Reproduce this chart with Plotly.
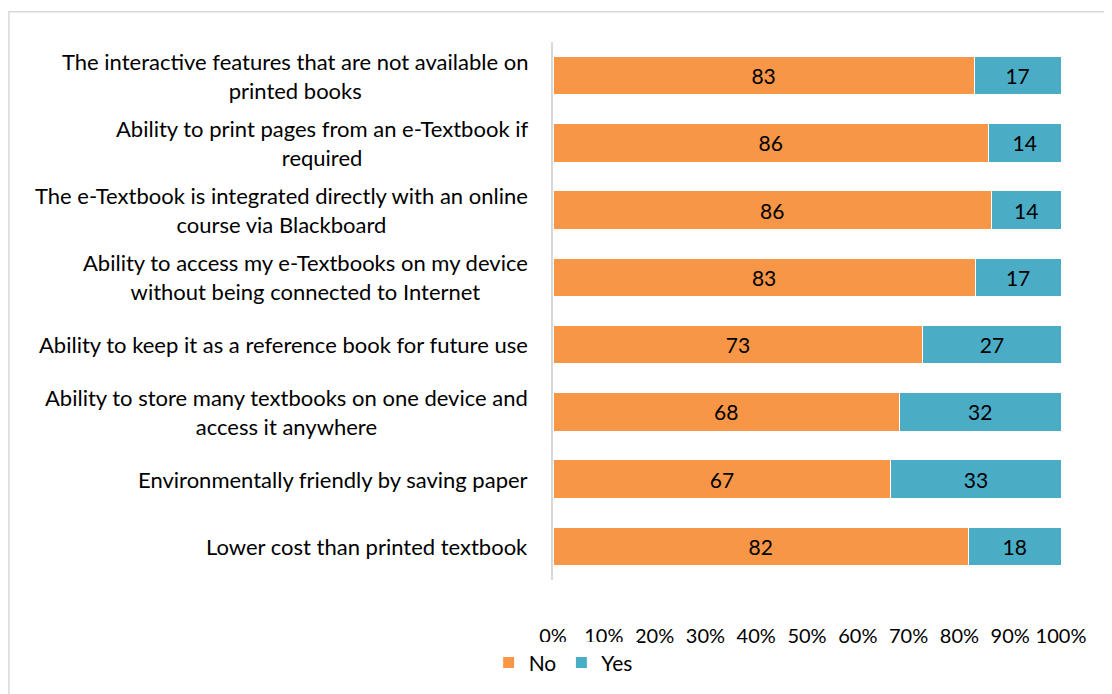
import plotly.graph_objects as go

# categories, top to bottom
features = [
    "The interactive features that are not available on<br>printed books",
    "Ability to print pages from an e-Textbook if<br>required",
    "The e-Textbook is integrated directly with an online<br>course via Blackboard",
    "Ability to access my e-Textbooks on my device<br>without being connected to Internet",
    "Ability to keep it as a reference book for future use",
    "Ability to store many textbooks on one device and<br>access it anywhere",
    "Environmentally friendly by saving paper",
    "Lower cost than printed textbook",
]
# bar lengths (percent of row)
no_share = [82.9, 85.7, 86.3, 83.1, 72.8, 68.2, 66.5, 81.8]
yes_share = [17.1, 14.3, 13.7, 16.9, 27.2, 31.8, 33.5, 18.2]
# printed data labels
no_labels = [83, 86, 86, 83, 73, 68, 67, 82]
yes_labels = [17, 14, 14, 17, 27, 32, 33, 18]
pct_ticks = [0, 10, 20, 30, 40, 50, 60, 70, 80, 90, 100]
pct_text = ['0%', '10%', '20%', '30%', '40%', '50%', '60%', '70%', '80%', '90%', '100%']

FONT = "Lato"
colors = {'No': '#F79646', 'Yes': '#4BACC6'}
cat_ids = [f"c{i}" for i in range(len(features))]

fig = go.Figure()
for name, vals, labels in [('No', no_share, no_labels), ('Yes', yes_share, yes_labels)]:
    fig.add_trace(go.Bar(
        y=cat_ids, x=vals, name=name, orientation='h',
        marker=dict(color=colors[name], line=dict(color='white', width=1)),
        text=[str(v) for v in labels], textposition='inside',
        insidetextanchor='middle', textangle=0,
        textfont=dict(family=FONT, size=21, color='black'),
        width=0.57, hoverinfo='skip',
    ))

# category labels, lines centred like the original
for cid, label in zip(cat_ids, features):
    fig.add_annotation(
        x=-0.045, xref='paper', y=cid, yref='y', text=label,
        showarrow=False, xanchor='right', yanchor='middle', align='center',
        font=dict(family=FONT, size=22, color='black'),
    )

# outer chart border
fig.add_shape(type='rect', xref='paper', yref='paper',
              x0=-1.071, x1=1.2, y0=-0.3, y1=1.056,
              line=dict(color='#D9D9D9', width=1.5), layer='below')

# page body adds 8px on the left/top, margins compensate
fig.update_layout(
    width=1112, height=694,
    margin=dict(l=545, r=59, t=34, b=122),
    barmode='stack', bargap=0.43,
    paper_bgcolor='white', plot_bgcolor='white',
    font=dict(family=FONT, size=21, color='black'),
    showlegend=True,
    legend=dict(orientation='h', x=0.02, xanchor='center', y=-0.154, yanchor='middle',
                font=dict(family=FONT, size=21, color='black'), traceorder='normal',
                itemwidth=30),
    xaxis=dict(range=[0, 100], tickvals=pct_ticks, ticktext=pct_text, showgrid=False,
               zeroline=False, showline=False, ticks='', ticklabelstandoff=42,
               tickfont=dict(family=FONT, size=20, color='black')),
    yaxis=dict(autorange='reversed', showticklabels=False, showgrid=False,
               zeroline=False, showline=True, linecolor='#D9D9D9', linewidth=2,
               ticks=''),
)

fig.write_html("out.html")
